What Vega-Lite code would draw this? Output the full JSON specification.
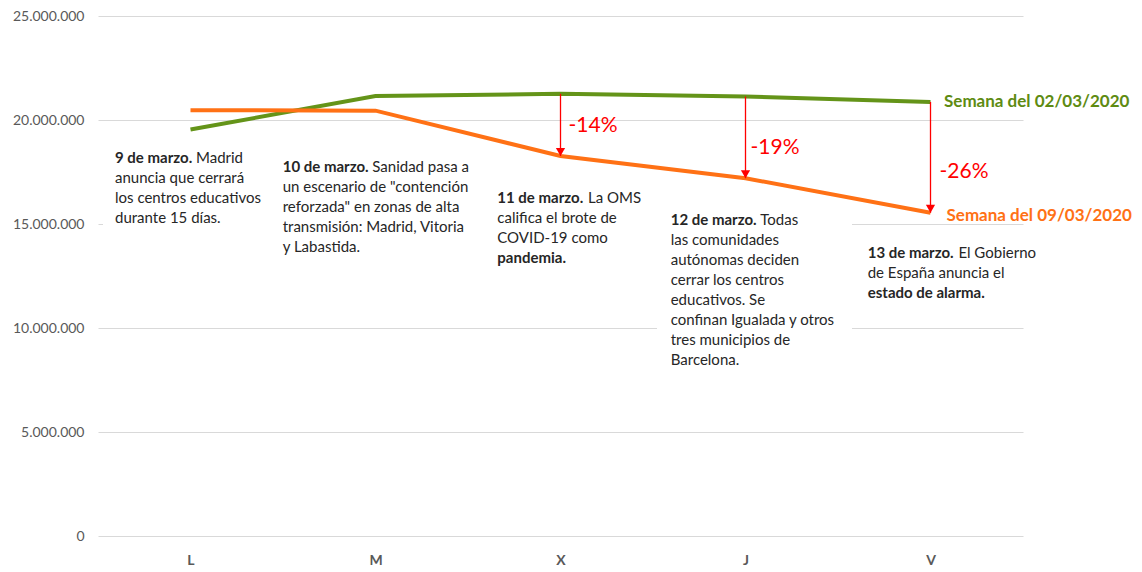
{
 "$schema": "https://vega.github.io/schema/vega-lite/v6.json",
 "width": 925,
 "height": 520,
 "autosize": {"type": "none"},
 "padding": {"left": 98, "top": 16, "right": 119, "bottom": 36},
 "background": "white",
 "config": {
  "view": {"stroke": null},
  "font": "Lato",
  "locale": {"number": {"decimal": ",", "thousands": ".", "grouping": [3], "currency": ["", "€"]}},
  "axisY": {"domain": false, "ticks": false, "labelFont": "Lato", "labelFontSize": 14, "labelColor": "#595959", "labelPadding": 14, "gridColor": "#D9D9D9", "gridWidth": 1}
 },
 "datasets": {
  "semanas": [
   {"dia": "L", "serie": "Semana del 02/03/2020", "valor": 19540000},
   {"dia": "M", "serie": "Semana del 02/03/2020", "valor": 21150000},
   {"dia": "X", "serie": "Semana del 02/03/2020", "valor": 21260000},
   {"dia": "J", "serie": "Semana del 02/03/2020", "valor": 21130000},
   {"dia": "V", "serie": "Semana del 02/03/2020", "valor": 20870000},
   {"dia": "L", "serie": "Semana del 09/03/2020", "valor": 20470000},
   {"dia": "M", "serie": "Semana del 09/03/2020", "valor": 20450000},
   {"dia": "X", "serie": "Semana del 09/03/2020", "valor": 18270000},
   {"dia": "J", "serie": "Semana del 09/03/2020", "valor": 17200000},
   {"dia": "V", "serie": "Semana del 09/03/2020", "valor": 15540000}
  ],
  "flechas": [
   {"dia": "X", "desde": 21260000, "hasta": 18270000, "etiqueta": "-14%"},
   {"dia": "J", "desde": 21130000, "hasta": 17200000, "etiqueta": "-19%"},
   {"dia": "V", "desde": 20870000, "hasta": 15540000, "etiqueta": "-26%"}
  ],
  "notas": [
   {"dia": "L", "y": 17947000, "negrita": "9 de marzo.", "sufijo": "Madrid", "resto": "\nanuncia que cerrará\nlos centros educativos\ndurante 15 días.", "cierre": ""},
   {"dia": "M", "y": 17514000, "negrita": "10 de marzo.", "sufijo": "Sanidad pasa a", "resto": "\nun escenario de \"contención\nreforzada\" en zonas de alta\ntransmisión: Madrid, Vitoria\ny Labastida.", "cierre": ""},
   {"dia": "X", "y": 15995000, "negrita": "11 de marzo.", "sufijo": "La OMS", "resto": "\ncalifica el brote de\nCOVID-19 como", "cierre": "pandemia."},
   {"dia": "J", "y": 14952000, "negrita": "12 de marzo.", "sufijo": "Todas", "resto": "\nlas comunidades\nautónomas deciden\ncerrar los centros\neducativos. Se\nconfinan Igualada y otros\ntres municipios de\nBarcelona.", "cierre": ""},
   {"dia": "V", "y": 13351000, "negrita": "13 de marzo.", "sufijo": "El Gobierno", "resto": "\nde España anuncia el", "cierre": "estado de alarma."}
  ]
 },
 "encoding": {
  "x": {
   "field": "dia", "type": "nominal",
   "sort": ["L", "M", "X", "J", "V"],
   "scale": {"type": "point", "padding": 0.5, "domain": ["L", "M", "X", "J", "V"]},
   "axis": {"title": null, "domain": false, "ticks": false, "grid": false, "labelAngle": 0, "labelFont": "Lato", "labelFontSize": 14, "labelFontWeight": "bold", "labelColor": "#595959", "labelPadding": 17}
  }
 },
 "layer": [
  {
   "data": {"name": "semanas"},
   "transform": [{"filter": "datum.serie == 'Semana del 02/03/2020'"}],
   "mark": {"type": "line", "strokeWidth": 4, "color": "#649419", "opacity": 0},
   "encoding": {
    "y": {"field": "valor", "type": "quantitative", "title": null,
     "scale": {"domain": [0, 25000000], "nice": false, "zero": true},
     "axis": {"title": null, "values": [0, 5000000, 10000000, 15000000, 20000000, 25000000], "format": ",d"}}
   }
  },
  {
   "data": {"name": "notas"},
   "transform": [{"filter": "datum.dia == 'L'"}],
   "encoding": {"y": {"field": "y", "type": "quantitative", "title": null, "axis": {"title": null, "values": [0, 5000000, 10000000, 15000000, 20000000, 25000000], "format": ",d"}}},
   "layer": [
    {"mark": {"type": "point", "shape": "M-1,-0.569H1V0.569H-1Z", "size": 27889, "filled": true, "color": "white", "opacity": 1, "strokeWidth": 0, "xOffset": -4, "yOffset": 24.8}},
    {"mark": {"type": "text", "align": "left", "baseline": "alphabetic", "dx": -75.5, "fontSize": 15, "fontWeight": "bold", "color": "#262626"}, "encoding": {"text": {"field": "negrita", "type": "nominal"}}},
    {"mark": {"type": "text", "align": "left", "baseline": "alphabetic", "dx": 5.5, "fontSize": 15, "color": "#262626"}, "encoding": {"text": {"field": "sufijo", "type": "nominal"}}},
    {"mark": {"type": "text", "align": "left", "baseline": "alphabetic", "dx": -75.5, "fontSize": 15, "color": "#262626", "lineBreak": "\n", "lineHeight": 20}, "encoding": {"text": {"field": "resto", "type": "nominal"}}}
   ]
  },
  {
   "data": {"name": "notas"},
   "transform": [{"filter": "datum.dia == 'M'"}],
   "encoding": {"y": {"field": "y", "type": "quantitative", "title": null, "axis": {"title": null, "values": [0, 5000000, 10000000, 15000000, 20000000, 25000000], "format": ",d"}}},
   "layer": [
    {"mark": {"type": "point", "shape": "M-1,-0.521H1V0.521H-1Z", "size": 46225, "filled": true, "color": "white", "opacity": 1, "strokeWidth": 0, "xOffset": 2, "yOffset": 34.3}},
    {"mark": {"type": "text", "align": "left", "baseline": "alphabetic", "dx": -92.8, "fontSize": 15, "fontWeight": "bold", "color": "#262626"}, "encoding": {"text": {"field": "negrita", "type": "nominal"}}},
    {"mark": {"type": "text", "align": "left", "baseline": "alphabetic", "dx": -3.2, "fontSize": 15, "color": "#262626"}, "encoding": {"text": {"field": "sufijo", "type": "nominal"}}},
    {"mark": {"type": "text", "align": "left", "baseline": "alphabetic", "dx": -92.8, "fontSize": 15, "color": "#262626", "lineBreak": "\n", "lineHeight": 20}, "encoding": {"text": {"field": "resto", "type": "nominal"}}}
   ]
  },
  {
   "data": {"name": "notas"},
   "transform": [{"filter": "datum.dia == 'X'"}],
   "encoding": {"y": {"field": "y", "type": "quantitative", "title": null, "axis": {"title": null, "values": [0, 5000000, 10000000, 15000000, 20000000, 25000000], "format": ",d"}}},
   "layer": [
    {"mark": {"type": "point", "shape": "M-1,-0.483H1V0.483H-1Z", "size": 29584, "filled": true, "color": "white", "opacity": 1, "strokeWidth": 0, "xOffset": 10.5, "yOffset": 23.2}},
    {"mark": {"type": "text", "align": "left", "baseline": "alphabetic", "dx": -63.2, "fontSize": 15, "fontWeight": "bold", "color": "#262626"}, "encoding": {"text": {"field": "negrita", "type": "nominal"}}},
    {"mark": {"type": "text", "align": "left", "baseline": "alphabetic", "dx": 27.5, "fontSize": 15, "color": "#262626"}, "encoding": {"text": {"field": "sufijo", "type": "nominal"}}},
    {"mark": {"type": "text", "align": "left", "baseline": "alphabetic", "dx": -63.2, "fontSize": 15, "color": "#262626", "lineBreak": "\n", "lineHeight": 20}, "encoding": {"text": {"field": "resto", "type": "nominal"}}},
    {"mark": {"type": "text", "align": "left", "baseline": "alphabetic", "dx": -63.2, "dy": 60, "fontSize": 15, "fontWeight": "bold", "color": "#262626"}, "encoding": {"text": {"field": "cierre", "type": "nominal"}}}
   ]
  },
  {
   "data": {"name": "notas"},
   "transform": [{"filter": "datum.dia == 'J'"}],
   "encoding": {"y": {"field": "y", "type": "quantitative", "title": null, "axis": {"title": null, "values": [0, 5000000, 10000000, 15000000, 20000000, 25000000], "format": ",d"}}},
   "layer": [
    {"mark": {"type": "point", "shape": "M-1,-0.831H1V0.831H-1Z", "size": 38025, "filled": true, "color": "white", "opacity": 1, "strokeWidth": 0, "xOffset": 9, "yOffset": 66}},
    {"mark": {"type": "text", "align": "left", "baseline": "alphabetic", "dx": -74.8, "fontSize": 15, "fontWeight": "bold", "color": "#262626"}, "encoding": {"text": {"field": "negrita", "type": "nominal"}}},
    {"mark": {"type": "text", "align": "left", "baseline": "alphabetic", "dx": 14.8, "fontSize": 15, "color": "#262626"}, "encoding": {"text": {"field": "sufijo", "type": "nominal"}}},
    {"mark": {"type": "text", "align": "left", "baseline": "alphabetic", "dx": -74.8, "fontSize": 15, "color": "#262626", "lineBreak": "\n", "lineHeight": 20}, "encoding": {"text": {"field": "resto", "type": "nominal"}}}
   ]
  },
  {
   "data": {"name": "notas"},
   "transform": [{"filter": "datum.dia == 'V'"}],
   "encoding": {"y": {"field": "y", "type": "quantitative", "title": null, "axis": {"title": null, "values": [0, 5000000, 10000000, 15000000, 20000000, 25000000], "format": ",d"}}},
   "layer": [
    {"mark": {"type": "text", "align": "left", "baseline": "alphabetic", "dx": -62.8, "fontSize": 15, "fontWeight": "bold", "color": "#262626"}, "encoding": {"text": {"field": "negrita", "type": "nominal"}}},
    {"mark": {"type": "text", "align": "left", "baseline": "alphabetic", "dx": 27.9, "fontSize": 15, "color": "#262626"}, "encoding": {"text": {"field": "sufijo", "type": "nominal"}}},
    {"mark": {"type": "text", "align": "left", "baseline": "alphabetic", "dx": -62.8, "fontSize": 15, "color": "#262626", "lineBreak": "\n", "lineHeight": 20}, "encoding": {"text": {"field": "resto", "type": "nominal"}}},
    {"mark": {"type": "text", "align": "left", "baseline": "alphabetic", "dx": -62.8, "dy": 40, "fontSize": 15, "fontWeight": "bold", "color": "#262626"}, "encoding": {"text": {"field": "cierre", "type": "nominal"}}}
   ]
  },
  {
   "data": {"name": "semanas"},
   "transform": [{"filter": "datum.serie == 'Semana del 02/03/2020'"}],
   "mark": {"type": "line", "strokeWidth": 4, "color": "#649419"},
   "encoding": {"y": {"field": "valor", "type": "quantitative", "title": null, "axis": {"title": null, "values": [0, 5000000, 10000000, 15000000, 20000000, 25000000], "format": ",d"}}}
  },
  {
   "data": {"name": "semanas"},
   "transform": [{"filter": "datum.serie == 'Semana del 09/03/2020'"}],
   "mark": {"type": "line", "strokeWidth": 4, "color": "#FF7115"},
   "encoding": {"y": {"field": "valor", "type": "quantitative", "title": null, "axis": {"title": null, "values": [0, 5000000, 10000000, 15000000, 20000000, 25000000], "format": ",d"}}}
  },
  {
   "data": {"name": "flechas"},
   "mark": {"type": "rule", "color": "#FF0000", "strokeWidth": 1.3},
   "encoding": {"y": {"field": "desde", "type": "quantitative", "title": null, "axis": {"title": null, "values": [0, 5000000, 10000000, 15000000, 20000000, 25000000], "format": ",d"}}, "y2": {"field": "hasta"}}
  },
  {
   "data": {"name": "flechas"},
   "mark": {"type": "point", "shape": "triangle-down", "size": 85, "filled": true, "color": "#FF0000", "opacity": 1, "strokeWidth": 0, "yOffset": -4},
   "encoding": {"y": {"field": "hasta", "type": "quantitative", "title": null, "axis": {"title": null, "values": [0, 5000000, 10000000, 15000000, 20000000, 25000000], "format": ",d"}}}
  },
  {
   "data": {"name": "flechas"},
   "transform": [{"filter": "datum.dia == 'X'"}],
   "mark": {"type": "text", "align": "left", "baseline": "alphabetic", "dx": 8, "dy": -24, "fontSize": 21, "color": "#FF0000"},
   "encoding": {"y": {"field": "hasta", "type": "quantitative", "title": null, "axis": {"title": null, "values": [0, 5000000, 10000000, 15000000, 20000000, 25000000], "format": ",d"}}, "text": {"field": "etiqueta", "type": "nominal"}}
  },
  {
   "data": {"name": "flechas"},
   "transform": [{"filter": "datum.dia == 'J'"}],
   "mark": {"type": "text", "align": "left", "baseline": "alphabetic", "dx": 5, "dy": -24, "fontSize": 21, "color": "#FF0000"},
   "encoding": {"y": {"field": "hasta", "type": "quantitative", "title": null, "axis": {"title": null, "values": [0, 5000000, 10000000, 15000000, 20000000, 25000000], "format": ",d"}}, "text": {"field": "etiqueta", "type": "nominal"}}
  },
  {
   "data": {"name": "flechas"},
   "transform": [{"filter": "datum.dia == 'V'"}],
   "mark": {"type": "text", "align": "left", "baseline": "alphabetic", "dx": 9, "dy": -35, "fontSize": 21, "color": "#FF0000"},
   "encoding": {"y": {"field": "hasta", "type": "quantitative", "title": null, "axis": {"title": null, "values": [0, 5000000, 10000000, 15000000, 20000000, 25000000], "format": ",d"}}, "text": {"field": "etiqueta", "type": "nominal"}}
  },
  {
   "data": {"name": "semanas"},
   "transform": [{"filter": "datum.dia == 'V' && datum.serie == 'Semana del 02/03/2020'"}],
   "mark": {"type": "text", "align": "left", "baseline": "middle", "dx": 13.5, "fontSize": 17, "fontWeight": "bold", "color": "#5E8B12"},
   "encoding": {"y": {"field": "valor", "type": "quantitative", "title": null, "axis": {"title": null, "values": [0, 5000000, 10000000, 15000000, 20000000, 25000000], "format": ",d"}}, "text": {"field": "serie", "type": "nominal"}}
  },
  {
   "data": {"name": "semanas"},
   "transform": [{"filter": "datum.dia == 'V' && datum.serie == 'Semana del 09/03/2020'"}],
   "mark": {"type": "text", "align": "left", "baseline": "middle", "dx": 16, "dy": 3, "fontSize": 17, "fontWeight": "bold", "color": "#FF7115"},
   "encoding": {"y": {"field": "valor", "type": "quantitative", "title": null, "axis": {"title": null, "values": [0, 5000000, 10000000, 15000000, 20000000, 25000000], "format": ",d"}}, "text": {"field": "serie", "type": "nominal"}}
  }
 ]
}
